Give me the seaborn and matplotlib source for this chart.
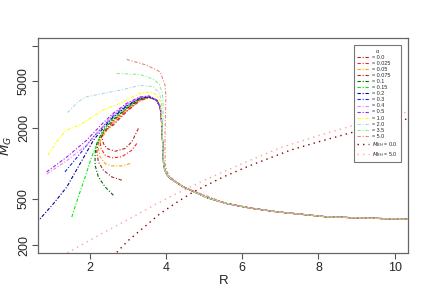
import matplotlib
matplotlib.use("Agg")
import matplotlib.pyplot as plt
from matplotlib.ticker import NullLocator
import seaborn as sns

sns.set_style("ticks")
plt.rcParams["font.family"] = ["Liberation Sans", "DejaVu Sans"]

# values (R, M_G)
BAND_TOP_R = [3.75, 3.84, 3.87]
BAND_TOP_M = [3440, 3020, 2480]
TAIL_R = [3.89, 3.91, 3.93, 3.96, 4.02, 4.10, 4.25, 4.45, 4.71, 5.1, 5.59, 6.2, 6.91, 8.22, 9.3, 10.5]
TAIL_M = [1900, 1400, 1000, 880, 800, 745, 690, 628, 575, 505, 453, 415, 385, 349, 340, 332]

alpha_labels = ["0.0", "0.025", "0.05", "0.075", "0.1", "0.15", "0.2", "0.3",
                "0.4", "0.5", "1.0", "2.0", "3.5", "5.0"]
alpha_colors = ["#b22222", "#ff2020", "#ffa500", "#a52a2a", "#006400", "#00ee00",
                "#00008b", "#2020ff", "#ee82ee", "#a020f0", "#ffff00", "#add8e6",
                "#90ee90", "#f08080"]

curve_r = {
    "0.0": [3.269, 3.096, 2.920, 2.657, 2.439, 2.350, 2.307, 2.36, 2.47, 2.6, 2.96, 3.3, 3.55],
    "0.025": [3.227, 3.096, 2.833, 2.570, 2.394, 2.289, 2.263, 2.32, 2.45, 2.6, 2.96, 3.3, 3.55],
    "0.05": [3.051, 2.833, 2.570, 2.394, 2.263, 2.218, 2.28, 2.42, 2.6, 2.96, 3.3, 3.55],
    "0.075": [2.833, 2.570, 2.350, 2.218, 2.176, 2.218, 2.35, 2.6, 2.96, 3.3, 3.55],
    "0.1": [2.612, 2.394, 2.218, 2.131, 2.131, 2.176, 2.3, 2.45, 2.6, 2.96, 3.3, 3.55],
    "0.15": [1.52, 1.69, 1.87, 2.04, 2.26, 2.45, 2.6, 2.96, 3.3, 3.55],
    "0.2": [0.60, 0.69, 1.04, 1.39, 1.74, 2.09, 2.35, 2.6, 2.96, 3.3, 3.55],
    "0.3": [1.34, 1.74, 2.09, 2.35, 2.6, 2.96, 3.3, 3.55],
    "0.4": [0.86, 1.39, 1.91, 2.29, 2.6, 2.96, 3.3, 3.55],
    "0.5": [0.86, 1.39, 1.91, 2.29, 2.6, 2.96, 3.3, 3.55],
}
curve_m = {
    "0.0": [1977, 1520, 1334, 1264, 1334, 1471, 1676, 1850, 1980, 2100, 2750, 3390, 3630],
    "0.025": [1471, 1291, 1133, 1110, 1169, 1334, 1520, 1750, 1950, 2160, 2800, 3420, 3640],
    "0.05": [993, 948, 948, 993, 1133, 1334, 1600, 1850, 2220, 2850, 3450, 3650],
    "0.075": [716, 764, 871, 1025, 1247, 1520, 1800, 2280, 2900, 3480, 3660],
    "0.1": [533, 628, 764, 962, 1211, 1471, 1800, 2080, 2340, 2950, 3510, 3670],
    "0.15": [348, 516, 764, 1130, 1680, 2100, 2400, 3000, 3540, 3680],
    "0.2": [310, 337, 453, 628, 994, 1570, 2000, 2460, 3060, 3570, 3690],
    "0.3": [843, 1210, 1680, 2070, 2520, 3110, 3600, 3700],
    "0.4": [810, 1050, 1430, 1980, 2580, 3170, 3630, 3720],
    "0.5": [843, 1130, 1570, 2120, 2650, 3230, 3670, 3740],
}
# curves for larger alpha join the descent further out
curve_r["1.0"] = [0.89, 1.15, 1.37, 1.72, 2.33, 2.79, 3.31, 3.62, 3.75, 3.85]
curve_m["1.0"] = [1170, 1570, 1910, 2110, 2830, 3230, 3950, 4030, 3800, 3340]
curve_r["2.0"] = [1.41, 1.68, 1.89, 2.42, 2.79, 3.31, 3.66, 3.82, 3.88]
curve_m["2.0"] = [2705, 3335, 3675, 3975, 4190, 4600, 4500, 3930, 3340]
curve_r["3.5"] = [2.70, 3.31, 3.66, 3.82, 3.90, 3.92, 3.92]
curve_m["3.5"] = [5820, 5700, 5200, 4700, 3930, 3300, 2500]
PINK_R = [2.96, 3.49, 3.84, 3.97, 3.99, 3.98, 3.97, 3.97, 4.02, 4.10, 4.45, 4.89, 5.59, 6.2, 6.91, 8.22, 9.3, 10.5]
PINK_M = [7660, 6840, 6000, 4620, 3670, 2500, 1910, 994, 850, 764, 628, 552, 453, 415, 385, 349, 340, 332]

MBH0_R = [2.6, 3.0, 3.5, 3.84, 4.3, 4.71, 5.5, 6.2, 7.26, 8.0, 8.96, 10.0, 10.5]
MBH0_M = [161, 219, 300, 372, 469, 569, 764, 954, 1291, 1520, 1858, 2250, 2450]
MBH5_R = [1.40, 2.0, 3.0, 4.0, 5.0, 6.0, 7.0, 8.0, 9.0, 10.0, 10.5]
MBH5_M = [172, 221, 332, 498, 716, 993, 1355, 1718, 2135, 2590, 2800]

fig = plt.figure(figsize=(4.32, 3.0), dpi=100)
ax = fig.add_axes([0.0887, 0.156, 0.8565, 0.717])

dashdot = (0, (3, 1.6, 1, 1.6))
for lab, col in zip(alpha_labels, alpha_colors):
    if lab == "5.0":
        xs, ys = PINK_R, PINK_M
    elif lab in ("1.0", "2.0", "3.5"):
        xs, ys = curve_r[lab] + TAIL_R, curve_m[lab] + TAIL_M
    else:
        xs = curve_r[lab] + BAND_TOP_R + TAIL_R
        ys = curve_m[lab] + BAND_TOP_M + TAIL_M
    sns.lineplot(x=xs, y=ys, sort=False, estimator=None, color=col,
                 linewidth=0.8, linestyle=dashdot, label="= " + lab, ax=ax)

sns.lineplot(x=MBH0_R, y=MBH0_M, sort=False, estimator=None, color="#8b0000",
             linewidth=1.0, linestyle=(0, (1, 3)), label="$M_{BH}$ = 0.0", ax=ax)
sns.lineplot(x=MBH5_R, y=MBH5_M, sort=False, estimator=None, color="#ffa0a0",
             linewidth=1.0, linestyle=(0, (1, 3)), label="$M_{BH}$ = 5.0", ax=ax)

ax.set_yscale("log")
ax.set_xlim(0.64, 10.36)
ax.set_ylim(171, 11640)
ax.set_xticks([2, 4, 6, 8, 10])
ax.set_yticks([200, 500, 2000, 5000, 10000])
ax.set_yticklabels(["200", "500", "2000", "5000", ""], rotation=90, va="center")
ax.yaxis.set_minor_locator(NullLocator())
ax.tick_params(labelsize=9, length=4, width=0.8, color="#555555", pad=2)
ax.set_xlabel("R", fontsize=9.5, labelpad=1)
ax.set_ylabel("$M_G$", fontsize=9.5, labelpad=3)
for s in ax.spines.values():
    s.set_color("#666666")
    s.set_linewidth(0.9)

leg = ax.legend(loc="upper right", bbox_to_anchor=(0.98, 0.966), fontsize=3.9,
                title="α", title_fontsize=3.9, fancybox=False, framealpha=1,
                edgecolor="#777777", handlelength=2.3, labelspacing=0.2,
                borderpad=0.6, handletextpad=0.5, borderaxespad=0)
leg.get_frame().set_linewidth(0.8)

fig.savefig("out.png", dpi=100)
